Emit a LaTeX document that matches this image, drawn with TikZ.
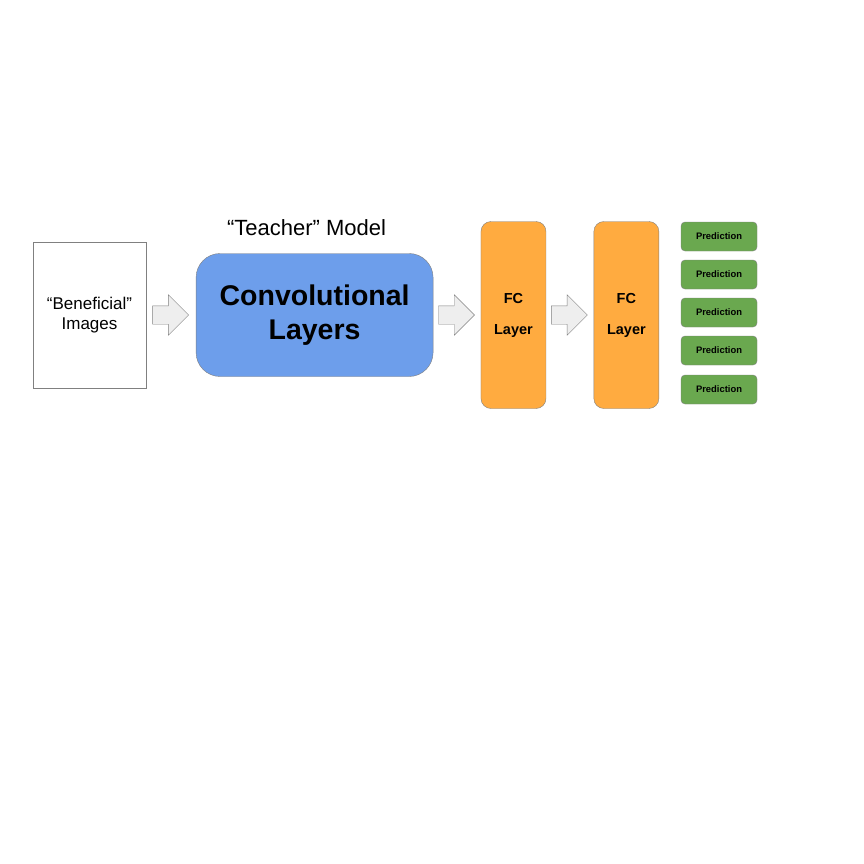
\documentclass[tikz,border=0pt]{standalone}
\usepackage{fontspec}
\setmainfont{Liberation Sans}
\usepackage{tikz}
\usetikzlibrary{shapes.arrows,positioning}
\definecolor{convblue}{HTML}{6D9EEB}
\definecolor{fcorange}{HTML}{FFAB40}
\definecolor{predgreen}{HTML}{6AA84F}
\definecolor{arrowgray}{HTML}{EEEEEE}
\definecolor{edgegray}{HTML}{808080}

\begin{document}
\begin{tikzpicture}[
    x=1pt, y=-1pt,
    node distance=6pt,
    imgbox/.style={rectangle, draw=edgegray, fill=white, line width=0.8pt, minimum width=113pt, minimum height=146pt, align=center, font=\fontsize{17}{20}\selectfont},
    convbox/.style={rectangle, draw=edgegray, fill=convblue, rounded corners=24pt, minimum width=237pt, minimum height=123pt, align=center, font=\fontsize{28.5}{34}\selectfont\bfseries},
    fcbox/.style={rectangle, draw=edgegray, fill=fcorange, rounded corners=10pt, minimum width=65pt, minimum height=187pt, align=center, font=\fontsize{14.5}{31}\selectfont\bfseries},
    predbox/.style={rectangle, draw=edgegray, fill=predgreen, rounded corners=4pt, minimum width=76pt, minimum height=29pt, inner sep=0pt, font=\fontsize{9.4}{11}\selectfont\bfseries},
    blockarrow/.style={single arrow, draw=edgegray, fill=arrowgray, inner sep=0pt, minimum height=36pt, single arrow head extend=11pt}
]
\useasboundingbox[fill=white] (0,0) rectangle (864,864);

% Nodes
\node[imgbox] (images) at (89.5,315) {``Beneficial''\\Images};
\node[blockarrow, right=6pt of images] (arrA) {\rule{0pt}{18pt}};
\node[convbox, right=7pt of arrA] (conv) {\raisebox{-3pt}{\parbox{220pt}{\centering Convolutional\\Layers}}};
\node[font=\fontsize{22}{24}\selectfont, above=14pt of conv, xshift=-8pt] (teacher) {``Teacher'' Model};
\node[blockarrow, right=5pt of conv] (arrB) {\rule{0pt}{18pt}};
\node[fcbox, right=6pt of arrB] (fcA) {FC\\Layer};
\node[blockarrow, right=5pt of fcA] (arrC) {\rule{0pt}{18pt}};
\node[fcbox, right=6pt of arrC] (fcB) {FC\\Layer};
\foreach \i/\y in {1/236.5, 2/274.5, 3/312.5, 4/350.5, 5/389.5}
  \node[predbox] (pred\i) at (719,\y) {Prediction};

\end{tikzpicture}
\end{document}
